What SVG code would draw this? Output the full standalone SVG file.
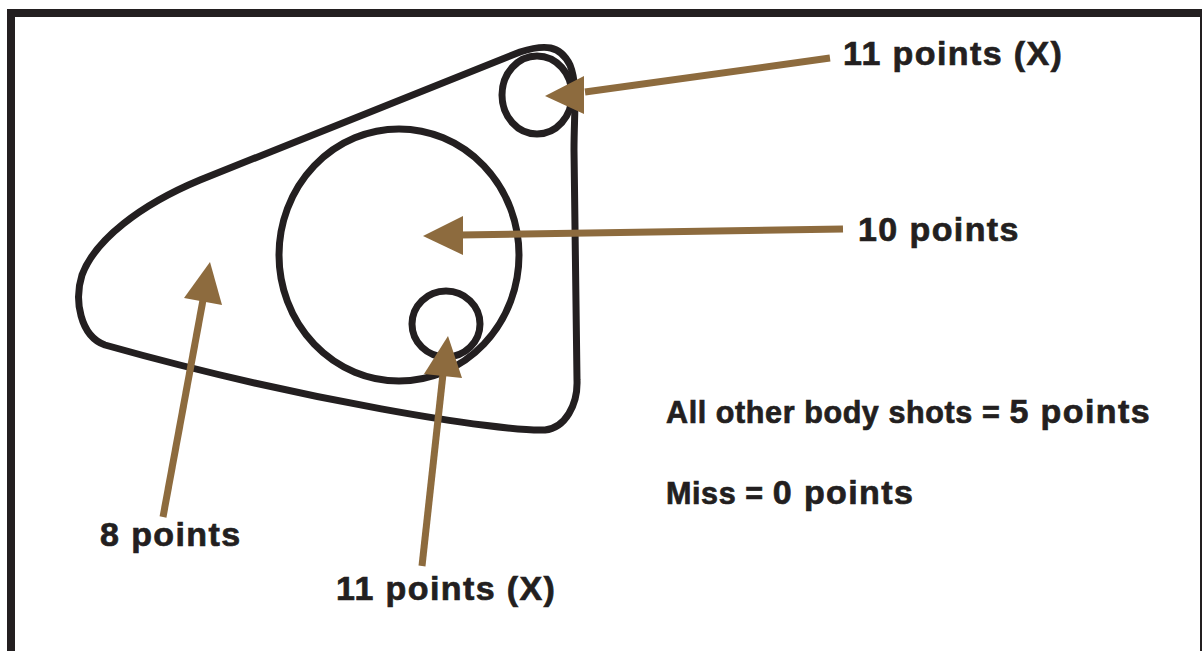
<svg xmlns="http://www.w3.org/2000/svg" width="1202" height="651" viewBox="0 0 1202 651">
<style>
.ol{fill:none;stroke:#231f20;stroke-width:7}
.sh{stroke:#8d6b3e;stroke-width:7;fill:none}
.hd{fill:#8d6b3e}
.t{font-family:"Liberation Sans",Arial,sans-serif;font-weight:bold;fill:#231f20;stroke:#231f20;stroke-width:0.7;font-size:34px;letter-spacing:1.4px}
.s{font-size:30.5px;letter-spacing:0.6px}
</style>
<rect x="11" y="13" width="1193" height="700" fill="#ffffff" stroke="#231f20" stroke-width="8"/>
<g id="target">
<path class="ol" d="M545,430 C500,432 300,400 105,345 C80,336 74,300 82,275 C95,240 140,205 200,180 L520,52 C545,44 560,45 570,65 C578,85 574,110 574,150 L577,380 C578,405 565,428 545,430 Z"/>
</g>
<g id="x-top"><ellipse class="ol" cx="537" cy="95" rx="35" ry="39"/></g>
<g id="ten"><ellipse class="ol" cx="399" cy="255" rx="120" ry="126"/></g>
<g id="x-bottom"><ellipse class="ol" cx="446" cy="324" rx="34" ry="33"/></g>
<g id="connectors">
<line class="sh" x1="830" y1="58" x2="585" y2="92"/>
<polygon class="hd" points="545,96 584,76 584,114"/>
<line class="sh" x1="843" y1="229" x2="460" y2="235"/>
<polygon class="hd" points="423,236 463,216 463,255"/>
<line class="sh" x1="163" y1="517" x2="203" y2="300"/>
<polygon class="hd" points="210,262 184,298 222,305"/>
<line class="sh" x1="422" y1="566" x2="443" y2="374"/>
<polygon class="hd" points="448,336 424,374 462,378"/>
</g>
<g id="labels">
<text class="t" x="843" y="65">11 points (X)</text>
<text class="t" x="858" y="241">10 points</text>
<text class="t" x="100" y="546">8 points</text>
<text class="t" x="336" y="600">11 points (X)</text>
<text class="t" x="666" y="423"><tspan class="s">All other body shots = </tspan><tspan>5 points</tspan></text>
<text class="t" x="666" y="504"><tspan class="s">Miss = </tspan><tspan>0 points</tspan></text>
</g>
</svg>
